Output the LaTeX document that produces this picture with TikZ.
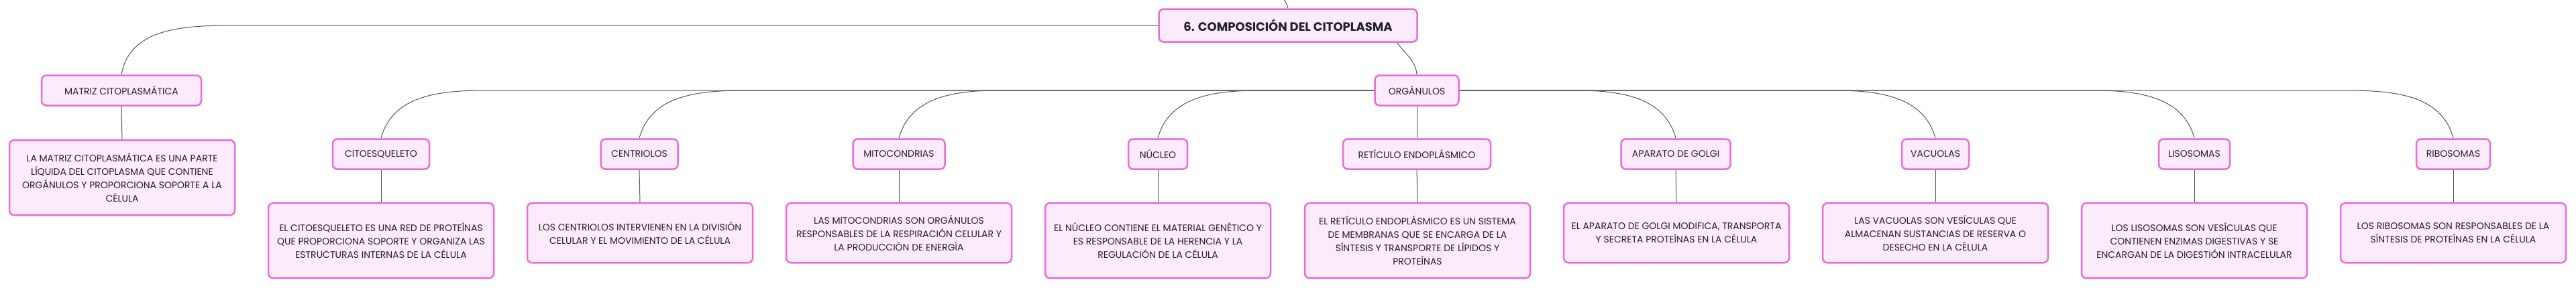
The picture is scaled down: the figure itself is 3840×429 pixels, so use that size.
\documentclass[tikz,border=0pt]{standalone}
\usepackage{fontspec}
\setmainfont{Poppins}
\usetikzlibrary{calc}
\definecolor{mypink}{RGB}{238, 107, 214}
\definecolor{mypink2}{RGB}{252, 235, 250}
\definecolor{mygray}{RGB}{85, 85, 85}
\definecolor{mytext}{RGB}{34, 34, 34}

\begin{document}
\begin{tikzpicture}[x=1pt, y=-1pt,
  box/.style={draw=mypink, fill=mypink2, line width=2.5pt, rounded corners=7pt, text=mytext, font=\fontsize{14}{20}\selectfont, align=center, minimum height=45pt, inner xsep=4pt},
  descbox/.style={box, minimum width=336pt, anchor=north},
  link/.style={draw=mygray, line width=1pt}]
\useasboundingbox (0,0) rectangle (3840,429);

% main nodes
\node[box, font=\bfseries\fontsize{18}{20}\selectfont, minimum width=385pt, minimum height=49pt] (title) at (1920,38) {6. COMPOSICIÓN DEL CITOPLASMA};
\coordinate (up) at (1903,-20);
\node[box, minimum width=238pt] (matriz) at (181,135) {MATRIZ CITOPLASMÁTICA};
\node[box, minimum width=125pt] (org) at (2112,135) {ORGÁNULOS};

% organelles
\node[box, minimum width=144pt] (cito) at (568,230) {CITOESQUELETO};
\node[box, minimum width=115pt] (centr) at (953,230) {CENTRIOLOS};
\node[box, minimum width=137pt] (mito) at (1340,230) {MITOCONDRIAS};
\node[box, minimum width=88pt] (nucleo) at (1726,230) {NÚCLEO};
\node[box, minimum width=220pt] (ret) at (2112,230) {RETÍCULO ENDOPLÁSMICO};
\node[box, minimum width=163pt] (golgi) at (2498,230) {APARATO DE GOLGI};
\node[box, minimum width=100pt] (vac) at (2885,230) {VACUOLAS};
\node[box, minimum width=106pt] (liso) at (3271,230) {LISOSOMAS};
\node[box, minimum width=110pt] (ribo) at (3657,230) {RIBOSOMAS};

% descriptions
\node[descbox, minimum height=112pt] (matrizd) at (182,208) {LA MATRIZ CITOPLASMÁTICA ES UNA PARTE\\ LÍQUIDA DEL CITOPLASMA QUE CONTIENE\\ ORGÁNULOS Y PROPORCIONA SOPORTE A LA\\ CÉLULA};
\node[descbox, minimum height=112pt] (citod) at (568,302) {EL CITOESQUELETO ES UNA RED DE PROTEÍNAS\\ QUE PROPORCIONA SOPORTE Y ORGANIZA LAS\\ ESTRUCTURAS INTERNAS DE LA CÉLULA};
\node[descbox, minimum height=89pt] (centrd) at (954,302) {LOS CENTRIOLOS INTERVIENEN EN LA DIVISIÓN\\ CELULAR Y EL MOVIMIENTO DE LA CÉLULA};
\node[descbox, minimum height=89pt] (mitod) at (1340,302) {LAS MITOCONDRIAS SON ORGÁNULOS\\ RESPONSABLES DE LA RESPIRACIÓN CELULAR Y\\ LA PRODUCCIÓN DE ENERGÍA};
\node[descbox, minimum height=112pt] (nucleod) at (1726,302) {EL NÚCLEO CONTIENE EL MATERIAL GENÉTICO Y\\ ES RESPONSABLE DE LA HERENCIA Y LA\\ REGULACIÓN DE LA CÉLULA};
\node[descbox, minimum height=112pt] (retd) at (2113,302) {EL RETÍCULO ENDOPLÁSMICO ES UN SISTEMA\\ DE MEMBRANAS QUE SE ENCARGA DE LA\\ SÍNTESIS Y TRANSPORTE DE LÍPIDOS Y\\ PROTEÍNAS};
\node[descbox, minimum height=89pt] (golgid) at (2499,302) {EL APARATO DE GOLGI MODIFICA, TRANSPORTA\\ Y SECRETA PROTEÍNAS EN LA CÉLULA};
\node[descbox, minimum height=89pt] (vacd) at (2885,302) {LAS VACUOLAS SON VESÍCULAS QUE\\ ALMACENAN SUSTANCIAS DE RESERVA O\\ DESECHO EN LA CÉLULA};
\node[descbox, minimum height=112pt] (lisod) at (3271,302) {LOS LISOSOMAS SON VESÍCULAS QUE\\ CONTIENEN ENZIMAS DIGESTIVAS Y SE\\ ENCARGAN DE LA DIGESTIÓN INTRACELULAR};
\node[descbox, minimum height=89pt] (ribod) at (3657,302) {LOS RIBOSOMAS SON RESPONSABLES DE LA\\ SÍNTESIS DE PROTEÍNAS EN LA CÉLULA};

% connectors
\draw[link] (title.north) to[out=100,in=-80] (up);
\draw[link] (title.west) -- (353,38) to[out=180,in=80] (matriz.north);
\draw[link] (title.-9) to[out=-55,in=95] (org.north);
\draw[link] (matriz.south) -- (matrizd.north);
\draw[link] (org.south) -- (ret.north);
\foreach \n/\s in {cito/727, centr/1115, mito/1490, nucleo/1880}{
\draw[link] (org.west) -- (\s,135) to[out=180,in=75] (\n.north);
}
\foreach \n/\s in {golgi/2350, vac/2734, liso/3119, ribo/3491}{
\draw[link] (org.east) -- (\s,135) to[out=0,in=105] (\n.north);
}
\foreach \n in {cito, centr, mito, nucleo, ret, golgi, vac, liso, ribo}{
\draw[link] (\n.south) -- (\n d.north);
}

\end{tikzpicture}
\end{document}
